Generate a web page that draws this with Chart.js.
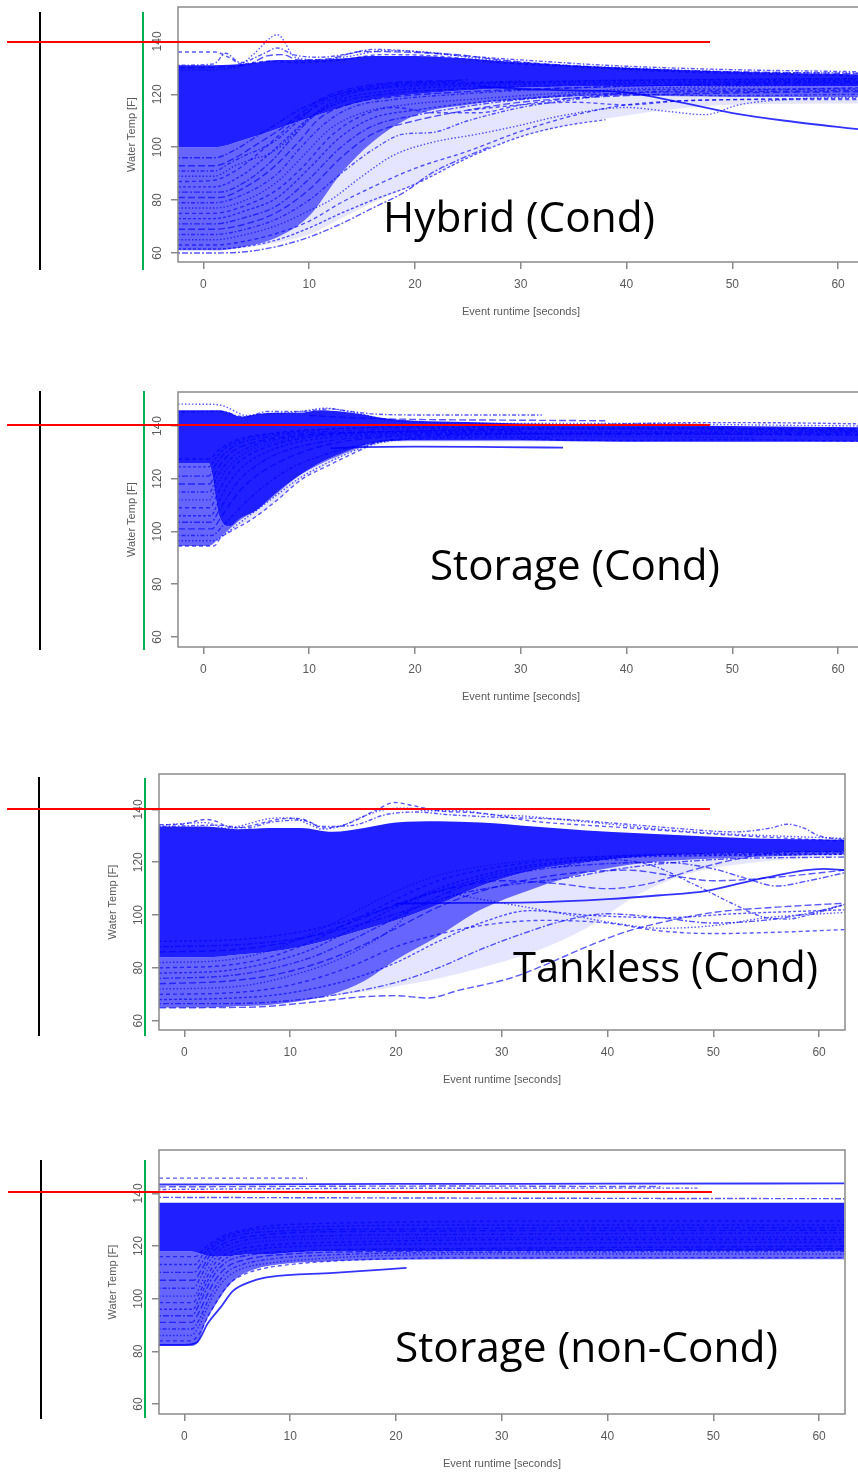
<!DOCTYPE html>
<html>
<head>
<meta charset="utf-8">
<script src="https://cdn.jsdelivr.net/npm/chart.js@4.4.1/dist/chart.umd.min.js"></script>
<style>
html, body { margin: 0; padding: 0; background: #fff; width: 858px; height: 1479px; overflow: hidden; }
canvas { position: absolute; left: 0; }
.mark { position: absolute; z-index: 2; }
.big { position: absolute; z-index: 3; font-family: "Open Sans"; font-size: 42px; line-height: 1; color: #000; white-space: nowrap; transform-origin: 0 0; }
</style>
</head>
<body>
<canvas id="c1"></canvas>
<canvas id="c2"></canvas>
<canvas id="c3"></canvas>
<canvas id="c4"></canvas>

<div class="big" id="t1" style="left:383px;top:195px">Hybrid (Cond)</div>
<div class="big" id="t2" style="left:430px;top:543px">Storage (Cond)</div>
<div class="big" id="t3" style="left:513px;top:945px">Tankless (Cond)</div>
<div class="big" id="t4" style="left:395px;top:1325px">Storage (non-Cond)</div>

<script>
// ---- shared axis values ----
const xTicks = [0, 10, 20, 30, 40, 50, 60];
const yTicks = [60, 80, 100, 120, 140];
const xTitle = 'Event runtime [seconds]';
const yTitle = 'Water Temp [F]';

// ---- Hybrid (Cond) ----
// envelopes of the dense, medium and sparse parts of the bundle
const hybridGrid      = [-2.4, 1, 4, 7, 10, 13, 16, 20, 25, 30, 40, 50, 62.4];
const hybridCoreTop   = [131, 131, 131.5, 133, 133, 133.5, 134.5, 134.5, 133.5, 132, 130, 128.5, 127.5];
const hybridCoreLow   = [100, 100, 103, 107, 111, 115, 118, 120, 121.5, 122.5, 123, 123, 123];
const hybridMidLow    = [61, 61, 62.5, 66, 74, 90, 102, 112, 116, 118, 119.5, 119, 119];
const hybridSparseLow = [61, 61, 62, 64, 67, 73, 79, 86, 96, 104, 112, 116, 116.5];
const hybridCurves = [
    [[-2.4,136],[1.1,136],[2.4,134],[3.6,131.5],[6,132.5],[9,132],[13,133],[17,135],[22,134.5],[28,132],[35,130.5],[45,128.5],[55,127.5],[62.4,127]],
    [[-2.4,129],[3,130],[4.7,135],[7,142.5],[8.7,134],[11,133],[14,134.5],[17,136.5],[21,136],[26,133.5],[32,131.5],[40,130],[50,128.5],[62.4,128]],
    [[-2.4,131],[1,131.5],[2.1,135.5],[3.5,132],[5.5,135],[7,137.5],[8.5,135],[11,134],[14,135.5],[16,137],[19,136.5],[23,135],[30,133],[38,131],[48,129.5],[62.4,128.5]],
    [[-2.4,130],[4,131],[6,134.5],[7.5,135],[9,133],[12,133.5],[15,136.2],[20,135.8],[24,135],[28,133],[34,131],[45,129],[62.4,127.8]],
    [[-2.4,60],[1,60],[4,60.5],[7,62.5],[10,66],[13,71],[16,77],[19,83],[21.5,90],[24,95],[27,100]],
    [[-2.4,61.5],[1,61.5],[4,62.5],[7,65],[10,69.5],[13,75],[16,80],[20,86],[25,96],[30,104],[34,108],[38,110.4]],
    [[-2.4,63],[1,63],[4,64.5],[7,67.5],[10,72],[13,79],[16,85],[20,92],[25,98.5],[30,106],[35,112],[40,116],[50,118],[62.4,118.5]],
    [[-2.4,65],[1,65],[4,67],[7,70.5],[10,76],[12,80],[15,89],[18,97],[21.5,101.7],[26,105],[29.4,107.8],[34,112],[40,115],[44,113.5],[47.4,112.3],[50.6,116],[55,118],[62.4,119]],
    [[-2.4,67],[1,67],[4,69],[7,73],[10,80],[13,90],[16,99],[19,105],[21.5,105.5],[25,110],[30,115],[35,118],[40,120],[50,119.5],[62.4,120]],
    [[-2.4,69],[1,69],[4,71],[7,75.5],[10,84],[13,96],[16,105],[20,110],[25,114],[30,117],[40,119.5],[50,120.5],[62.4,121]],
    [[-2.4,71],[1,71],[4,73.5],[7,78],[10,88],[13,100],[16,108],[20,112],[25,115.5],[30,118],[40,120.5],[50,121],[62.4,121.5]],
    [[-2.4,73],[1,73],[4,76],[7,81],[10,92],[13,104],[16,111],[20,114],[26,117],[32,119],[40,121.5],[50,122],[62.4,122]],
    [[-2.4,75],[1,75],[4,78],[7,84],[9.5,93],[12,104],[15,112],[18,115],[22,113],[26,113],[30,116],[36,119],[42,121],[50,121.5],[62.4,122.5]],
    [[-2.4,77],[1,77],[4,80],[7,87],[9.5,97],[12,107],[15,113],[19,116],[25,118],[32,120],[40,122],[50,123],[62.4,123.5]],
    [[-2.4,79],[1,79],[4,82.5],[7,90],[9,99],[11.5,109],[14,115],[18,118],[24,120],[30,121.5],[40,123],[62.4,124]],
    [[-2.4,81],[1.5,81],[4,85],[6.5,92],[9,102],[11,111],[14,116.5],[18,119],[25,121],[35,122.5],[50,124],[62.4,124.5]],
    [[-2.4,83],[1.5,83],[4,87],[6.5,95],[8.5,104],[10.5,112],[13,117],[17,120],[24,122],[34,123.5],[62.4,125]],
    [[-2.4,85],[1,85],[3.5,89],[5.5,95],[7.5,102],[10,111],[13,118],[17,121],[24,123],[62.4,125.5]],
    [[-2.4,87],[1,87.5],[3,91],[5,97],[7,104],[9,111],[12,118],[16,122],[25,124],[62.4,126]],
    [[-2.4,89],[1,89],[3,93],[5,96],[6,97],[7.5,101],[9.5,109],[12,117],[16,122],[62.4,126]],
    [[-2.4,91],[1,91],[2.5,94],[4,97],[5.5,99.5],[7,103],[9,110],[11,117],[15,122],[30,125]],
    [[-2.4,93],[1,93],[3,96],[5,101],[7,106],[9,112],[11,118],[15,123],[25,125.5]],
    [[-2.4,96],[1,96],[3,99],[5,104],[7,109],[9,114],[12,119],[16,123],[24,125]],
    [[26,123],[30,122],[35,121.5],[40,120.7],[45,117],[49.9,113],[55,110],[62.4,106.6]],
    [[25,114],[30,116],[35,117],[40,116],[45,117.5],[50,118],[62.4,118]]
];

// ---- Storage (Cond) ----
const storageGrid      = [-2.4, 0.5, 1.5, 2.5, 3.5, 5, 7, 9, 11, 13, 15, 17, 20, 25, 30, 40, 50, 62.4];
const storageCoreTop   = [146, 146, 146, 145, 143.5, 144.5, 145, 145, 146, 145.5, 144.5, 143, 142, 141.5, 141, 140.5, 140, 139.5];
const storageCoreLow   = [126, 126, 106, 102, 105, 108, 115, 121, 126, 129.5, 132.5, 134, 134.5, 134.5, 134.5, 134, 134, 134];
const storageMidLow    = [94.5, 94.5, 97.5, 101, 104.5, 108, 114.5, 121, 125.5, 129, 132, 134, 134.5, 134.5, 134.5, 134, 134, 134];
const storageSparseLow = [94.5, 94.5, 97, 99.5, 102.5, 105.5, 112, 119, 124, 128, 131, 133.5, 134, 134, 134, 134, 134, 134];
const storageCurves = [
    [[-2.4,94.5],[1,94.5],[1.6,97.5],[3,101],[4.5,104.4],[7,112],[9.2,119.5],[12.3,126],[14.9,131],[16.5,134],[20,135],[26,135.5],[33,135.5]],
    [[-2.4,96.5],[1,96.5],[2,99],[3.5,103.5],[5,108],[7,114],[9,120],[11,124.5],[13,128.5],[15.5,132.5],[19,135],[25,136],[40,136],[52,135.5]],
    [[-2.4,98.5],[0.8,98.5],[1.8,102],[3,107],[4.5,113],[6.5,119.5],[8.5,124.5],[11,128.5],[14,132],[18,135],[25,136.5],[40,137],[62.4,136.5]],
    [[-2.4,101],[0.8,101],[1.6,105],[2.6,111],[3.8,117],[5.5,122.5],[7.5,127],[10,131],[13,134],[18,136],[30,137],[62.4,137]],
    [[-2.4,103.5],[0.7,103.5],[1.5,108],[2.4,114],[3.5,120],[5,125],[7,129.5],[10,133],[14,135.5],[22,137],[62.4,137.5]],
    [[-2.4,106],[0.7,106],[1.4,111],[2.2,117],[3.2,122.5],[4.5,127],[6.5,131],[9,134],[13,136],[22,137.5],[62.4,138]],
    [[-2.4,109],[0.6,109],[1.3,114],[2.1,120],[3,125],[4.3,129],[6,132],[9,135],[14,137],[30,138]],
    [[-2.4,112],[0.6,112],[1.2,117],[2,122.5],[3,127],[4.5,131],[7,134],[11,136.5],[20,138],[40,138.5],[62.4,138]],
    [[-2.4,115],[0.6,115],[1.2,120],[2,125],[3,129],[5,133],[8,135.5],[14,137.5],[30,138.5]],
    [[-2.4,118],[0.6,118],[1.1,122],[1.9,127],[3,131],[5,134],[9,136.5],[18,138],[40,139],[62.4,138.5]],
    [[-2.4,121],[0.5,121],[1.1,125],[2,129.5],[3.2,133],[5.5,135.5],[10,137.5],[25,139],[62.4,139]],
    [[-2.4,124.5],[0.5,124.5],[1.2,128],[2.2,132],[4,135],[8,137.5],[20,139.5],[50,139.5]],
    [[-2.4,127.5],[0.5,127.5],[1.5,131],[3,134.5],[6,137],[12,139],[30,140]],
    [[-2.4,148.3],[1,148.2],[2,147.5],[3,145.5],[4,144],[5.5,144.5],[8,145],[10,146],[11.5,146.8],[13,146],[15,144.5],[17,142.5],[20,141.5],[30,141],[40,141],[50,140.5],[62.4,140]],
    [[-2.4,145.4],[2,145.5],[3,144],[4,143.5],[6,145.5],[9,145.5],[12,146.5],[14,145.5],[16,144.6],[20,144.2],[32,144.2]],
    [[10,144],[15,143],[20,142.5],[30,142.2],[38,142]],
    [[12,131.5],[15,132],[20,132.2],[28,132],[34,131.8]],
    [[25,140],[35,140.5],[48,141.3],[55,141.2],[62.4,140.8]],
    [[30,135],[40,134.5],[50,134.8],[62.4,134.2]]
];

// ---- Tankless (Cond) ----
const tanklessGrid      = [-2.4, 2, 5, 8, 11, 14, 17, 20, 24, 28, 33, 38, 43, 48, 54, 62.4];
const tanklessCoreTop   = [133.5, 133.5, 132.5, 133, 133, 131.5, 133, 135, 135.5, 135, 133.5, 132, 131, 130, 129, 128.5];
const tanklessCoreLow   = [84, 84, 85, 86, 88, 91, 94.5, 98, 104, 111, 117, 120, 122, 123, 123.5, 124];
const tanklessMidLow    = [65, 65, 65.5, 66, 67.5, 70, 75, 83, 92, 102, 110, 116, 119.5, 121, 122, 123];
const tanklessSparseLow = [65, 65, 65.5, 66, 67.5, 69.5, 71, 73, 76, 80, 86, 95, 108, 116, 120, 122.5];
const tanklessCurves = [
    [[-2.4,134.2],[0,134.5],[1,135.5],[2,136.2],[3,135.5],[4,133.5],[5,133],[6.5,134],[8,135.5],[9.5,136.5],[10.7,136.6],[12,135],[13,133],[14.5,133.5],[16,135.5],[18,139.5],[19.9,142.6],[21.5,141.5],[24,139.5],[28.3,138.5],[33,135.5],[38,134],[42.4,132.9],[48.8,131],[55,129.5],[62.4,128]],
    [[-2.4,134],[2,135],[4,132.8],[6,134.5],[8,136.5],[10,136.8],[12,134],[13,132.5],[15,134],[17,137.5],[19,140],[21,140.5],[23,139.5],[26,139.5],[29,138],[32,137.5],[36,136],[40,134.5],[45,132.5],[50,131],[62.4,129]],
    [[-2.4,133.5],[3,134],[6,133],[8,135],[11,136],[13,133.5],[16,134],[19,138],[22,139],[25,138],[30,137],[36,136.2],[40,135],[46,133],[52,131.5],[55.5,133],[57,134.4],[58.5,133],[60,130],[62.4,128.5]],
    [[-2.4,64.9],[3,65],[7.2,65.3],[12,67],[16.6,69],[20,69.5],[23,68.6],[26,71.6],[30.8,76.1],[34,81],[38,88],[42,94],[46,98],[50,101],[56,103],[62.4,104.5]],
    [[-2.4,66.5],[4,66.5],[8,67],[12,68.5],[16,71],[20,74.5],[24,80],[28,87],[32,93],[36,98],[40,100.5],[45,99],[50,97],[54.7,98],[58.9,100.6],[62.4,104]],
    [[-2.4,68],[4,68.5],[8,69.5],[12,72],[16,76],[20,82],[24,90],[28,97],[32.7,101.7],[38,100],[45.3,99],[52,100.5],[62.4,102]],
    [[-2.4,70],[4,70.5],[8,72],[12,75.5],[16,81],[20,88],[23.3,92],[28,96],[34,98],[40,97],[45,94],[50,93],[56,93.5],[62.4,94.5]],
    [[-2.4,72],[5,73],[10,77],[15,84],[20,96],[23.3,109],[28,106],[35.8,100.5],[40.9,96.8],[45,95],[50,96],[55,99],[62.4,101]],
    [[20,104.3],[23,104.5],[33,104.8],[40,106],[45,107.5],[49.4,109.2],[54.7,114],[60.4,117.5],[62.4,117]],
    [[-2.4,74],[4,75],[8,77],[12,81],[16,87],[20,95],[24,103],[28,109],[32,113],[37,116],[42,117],[46,115],[50,113],[55,114],[62.4,117]],
    [[-2.4,76],[4,77],[8,79.5],[12,84],[16,91],[20,99],[24,107],[28,113],[33,117],[38,119],[45,120],[50,117.5],[53,114],[56,111],[59,113],[62.4,116]],
    [[-2.4,78],[4,79],[8,82],[12,87],[16,95],[20,103],[24,110],[28,115],[33,119],[40,121.5],[50,122.5],[62.4,123]],
    [[-2.4,80],[4,81],[8,84],[12,90],[16,98],[20,106],[24,113],[28,117],[34,120.5],[42,122.5],[62.4,123.5]],
    [[-2.4,82],[4,83],[8,86.5],[12,93],[16,101],[20,109],[24,115],[30,119.5],[38,122],[62.4,124]],
    [[35,118],[40,121],[44,119],[48,112],[52,104],[55,99],[57,98.5],[59,100],[62.4,104]],
    [[-2.4,86],[5,87],[10,90],[15,96],[20,104],[25,110],[30,113],[35,112],[40,110],[44,112],[48,117],[52,121],[57,124],[62.4,124]],
    [[-2.4,88],[6,89],[12,92],[18,98],[22,103],[26,108],[30,111],[36,114],[42,118],[50,121],[62.4,122]],
    [[-2.4,90],[6,91],[12,94.5],[18,101],[24,109],[30,116],[36,120],[44,122.5],[62.4,123]]
];

// ---- Storage (non-Cond) ----
const nonCondGrid      = [-2.4, 0.5, 1.2, 2, 3, 4, 5, 6.5, 8, 10, 13, 16, 20, 30, 40, 50, 62.4];
const nonCondCoreTop   = [136.5, 136.5, 136.5, 136.5, 136.5, 136.5, 136.5, 136.5, 136.5, 136.5, 136.5, 136.5, 136.5, 136.5, 136.5, 136.5, 136.5];
const nonCondCoreLow   = [118, 118, 117.5, 116.5, 116, 116, 116.5, 117, 117, 117.5, 118, 118, 118, 118, 118, 118, 118];
const nonCondMidLow    = [82, 82, 83, 91, 98, 104, 108, 111, 112.5, 113.5, 114, 114.5, 114.8, 115, 115, 115, 115];
const nonCondSparseLow = [82, 82, 83, 91, 98, 104, 108, 111, 112.5, 113.5, 114, 114.5, 114.8, 115, 115, 115, 115];
const nonCondCurves = [
    [[-2.4,145.8],[11.6,145.8]],
    [[-2.4,143.4],[20,143.6],[40,143.7],[62.4,143.8]],
    [[-2.4,141.5],[10,141.8],[30,142],[48.5,142]],
    [[-2.4,142.5],[25,142.8],[45,142.6]],
    [[-2.4,138.5],[30,138.2],[62.4,138]],
    [[-2.4,82.5],[0,82.5],[1.2,83.5],[2.2,90.6],[3.4,96.6],[4.6,103],[6.5,106.8],[8.1,108.3],[14.1,109.8],[21,111.7]],
    [[-2.4,84],[0.5,84],[1.3,86],[2.2,93],[3.2,100],[4.2,105.5],[5.5,109],[7.5,111.5],[10,113],[15,114.5],[25,115.5],[40,115.6],[62.4,115.6]],
    [[-2.4,86],[0.6,86],[1.3,89],[2.1,96],[3,103],[4,108],[5.5,111.5],[8,113.5],[12,115],[20,116.5],[35,117],[62.4,117]],
    [[-2.4,88.5],[0.7,88.5],[1.4,92],[2.2,99],[3,105],[4,110],[5.5,113],[8,115],[13,116.5],[25,117.5],[62.4,118]],
    [[-2.4,91],[0.7,91],[1.4,95],[2.1,101],[2.9,107],[4,112],[6,115],[10,117],[20,118],[40,118.5],[62.4,119]],
    [[-2.4,93.5],[0.7,93.5],[1.3,97],[2,103],[2.8,109],[4,114],[6,116.5],[10,118],[25,119],[62.4,120]],
    [[-2.4,96],[0.8,96],[1.4,100],[2.1,106],[3,112],[4.2,116],[6.5,118.5],[12,120],[30,121],[62.4,121.5]],
    [[-2.4,98.5],[0.8,98.5],[1.4,102],[2.1,108],[3,114],[4.5,118],[7,120],[15,121.5],[40,122.5],[62.4,122.5]],
    [[-2.4,101],[0.9,101],[1.5,105],[2.2,111],[3.2,116.5],[5,120],[8,122],[20,123],[62.4,123.5]],
    [[-2.4,104],[0.9,104],[1.5,108],[2.3,114],[3.5,119],[5.5,122],[10,123.5],[30,124.5],[62.4,125]],
    [[-2.4,107],[0.9,107],[1.6,111],[2.5,117],[4,121.5],[7,124],[15,125.5],[62.4,126]],
    [[-2.4,110],[0.9,110],[1.7,114],[2.7,119.5],[4.5,123.5],[8,125.5],[20,126.5],[62.4,127]],
    [[-2.4,113],[1,113],[1.8,117],[3,121.5],[5,125],[10,127],[30,128],[62.4,128]],
    [[-2.4,116],[1,116],[2,119.5],[3.5,123.5],[6,126.5],[12,128.5],[40,129.5],[62.4,129.5]]
];

// ---- layout of the four panels (pixels of the page) ----
const X_MIN = -2.4, X_MAX = 62.45;
const CANVAS_W = 870, Y_AXIS_W = 50, X_AXIS_H = 66, PAD_TOP = 6;
const panels = [
    { id: 'c1', left: 178, top: 7,    bottom: 262,  right: 864, yMin: 56.6, yMax: 153.0, strong: [23],
      grid: hybridGrid, top_: hybridCoreTop, core: hybridCoreLow, mid: hybridMidLow, sparse: hybridSparseLow, curves: hybridCurves },
    { id: 'c2', left: 178, top: 392,  bottom: 647,  right: 864, yMin: 56.2, yMax: 152.9, strong: [16],
      grid: storageGrid, top_: storageCoreTop, core: storageCoreLow, mid: storageMidLow, sparse: storageSparseLow, curves: storageCurves },
    { id: 'c3', left: 159, top: 774,  bottom: 1030, right: 845, yMin: 56.5, yMax: 153.4, strong: [8],
      grid: tanklessGrid, top_: tanklessCoreTop, core: tanklessCoreLow, mid: tanklessMidLow, sparse: tanklessSparseLow, curves: tanklessCurves },
    { id: 'c4', left: 159, top: 1150, bottom: 1414, right: 845, yMin: 56.2, yMax: 156.5, strong: [1, 5],
      grid: nonCondGrid, top_: nonCondCoreTop, core: nonCondCoreLow, mid: nonCondMidLow, sparse: nonCondSparseLow, curves: nonCondCurves }
];

const CORE_FILL = 'rgba(0, 0, 255, 0.88)';
const MID_FILL = 'rgba(0, 0, 255, 0.6)';
const SPARSE_FILL = 'rgba(0, 0, 255, 0.1)';
const LINE_COLOR = 'rgba(0, 0, 255, 0.65)';
const dashes = [[4, 3], [1.5, 2], [1.5, 2, 4, 2], [7, 3], [2, 2, 6, 2], [3, 2]];
const AXIS_GREY = '#8a8a8a';
const TEXT_GREY = '#5a5a5a';

Chart.defaults.font.family = 'Liberation Sans';

// R-style frame, rotated y labels and axis titles
const rFrame = {
    id: 'rFrame',
    afterDatasetsDraw(chart) {
        const { ctx, chartArea: a, scales: { y } } = chart;
        ctx.save();
        ctx.strokeStyle = AXIS_GREY;
        ctx.lineWidth = 1.5;
        ctx.strokeRect(a.left, a.top, a.right - a.left, a.bottom - a.top);

        ctx.fillStyle = TEXT_GREY;
        ctx.textAlign = 'center';
        ctx.textBaseline = 'middle';
        ctx.font = '12px "Liberation Sans"';
        y.ticks.forEach(t => {
            ctx.save();
            ctx.translate(a.left - 20, y.getPixelForValue(t.value));
            ctx.rotate(-Math.PI / 2);
            ctx.fillText(String(t.value), 0, 0);
            ctx.restore();
        });

        ctx.font = '11px "Liberation Sans"';
        ctx.save();
        ctx.translate(a.left - 46, (a.top + a.bottom) / 2);
        ctx.rotate(-Math.PI / 2);
        ctx.fillText(yTitle, 0, 0);
        ctx.restore();

        ctx.fillText(xTitle, (a.left + a.right) / 2, a.bottom + 50);
        ctx.restore();
    }
};

// stacked envelopes, each filled down from the one above it
function bandSets(p) {
    const pts = arr => p.grid.map((x, i) => ({ x: x, y: arr[i] }));
    const base = { borderWidth: 0, pointRadius: 0, cubicInterpolationMode: 'monotone', order: 3 };
    return [
        Object.assign({ data: pts(p.top_), fill: false }, base),
        Object.assign({ data: pts(p.core), fill: '-1', backgroundColor: CORE_FILL }, base),
        Object.assign({ data: pts(p.mid), fill: '-1', backgroundColor: MID_FILL }, base),
        Object.assign({ data: pts(p.sparse), fill: '-1', backgroundColor: SPARSE_FILL }, base)
    ];
}

function curveSets(p) {
    return p.curves.map((c, i) => {
        const strong = p.strong.includes(i);
        return {
            data: c,
            borderColor: strong ? 'rgba(0, 0, 255, 0.8)' : LINE_COLOR,
            borderWidth: strong ? 1.8 : 1.4,
            borderDash: strong ? [] : dashes[i % dashes.length],
            pointRadius: 0,
            fill: false,
            cubicInterpolationMode: 'monotone',
            order: 1
        };
    });
}

panels.forEach(p => {
    const canvas = document.getElementById(p.id);
    const h = (p.bottom - p.top) + PAD_TOP + X_AXIS_H;
    canvas.width = CANVAS_W;
    canvas.height = h;
    canvas.style.top = (p.top - PAD_TOP) + 'px';

    new Chart(canvas, {
        type: 'line',
        data: { datasets: bandSets(p).concat(curveSets(p)) },
        options: {
            responsive: false,
            animation: false,
            events: [],
            layout: { padding: { top: PAD_TOP, left: p.left - Y_AXIS_W, right: CANVAS_W - p.right, bottom: 0 } },
            plugins: { legend: { display: false }, tooltip: { enabled: false } },
            scales: {
                x: {
                    type: 'linear',
                    min: X_MIN,
                    max: X_MAX,
                    afterBuildTicks: s => { s.ticks = xTicks.map(v => ({ value: v })); },
                    afterFit: s => { s.height = X_AXIS_H; },
                    grid: { drawOnChartArea: false, drawTicks: true, tickLength: 7, color: AXIS_GREY, lineWidth: 1.5 },
                    border: { display: false },
                    ticks: { color: TEXT_GREY, font: { size: 12 }, padding: 8, maxRotation: 0, autoSkip: false }
                },
                y: {
                    type: 'linear',
                    min: p.yMin,
                    max: p.yMax,
                    afterBuildTicks: s => { s.ticks = yTicks.map(v => ({ value: v })); },
                    afterFit: s => { s.width = Y_AXIS_W; },
                    grid: { drawOnChartArea: false, drawTicks: true, tickLength: 7, color: AXIS_GREY, lineWidth: 1.5 },
                    border: { display: false },
                    ticks: { display: false }
                }
            }
        },
        plugins: [rFrame]
    });
});

// overlay guide lines (black, green, red at 140 F)
const guides = [
    { x: 39, y: 12, w: 2, h: 258, c: '#000' }, { x: 142, y: 12, w: 2, h: 258, c: '#00b050' }, { x: 7, y: 41, w: 703, h: 2, c: '#ff0000' },
    { x: 39, y: 391, w: 2, h: 259, c: '#000' }, { x: 143, y: 391, w: 2, h: 259, c: '#00b050' }, { x: 7, y: 424, w: 703, h: 2, c: '#ff0000' },
    { x: 38, y: 777, w: 2, h: 259, c: '#000' }, { x: 144, y: 778, w: 2, h: 258, c: '#00b050' }, { x: 7, y: 808, w: 703, h: 2, c: '#ff0000' },
    { x: 40, y: 1160, w: 2, h: 259, c: '#000' }, { x: 144, y: 1160, w: 2, h: 258, c: '#00b050' }, { x: 8, y: 1191, w: 704, h: 2, c: '#ff0000' }
];
guides.forEach(g => {
    const d = document.createElement('div');
    d.className = 'mark';
    d.style.cssText = `left:${g.x}px;top:${g.y}px;width:${g.w}px;height:${g.h}px;background:${g.c}`;
    document.body.appendChild(d);
});

// fit the large labels to the widths seen in the reference
const labelWidths = { t1: 272, t2: 290, t3: 305, t4: 383 };
Object.keys(labelWidths).forEach(id => {
    const el = document.getElementById(id);
    const w = el.getBoundingClientRect().width;
    el.style.transform = `scaleX(${labelWidths[id] / w})`;
});
</script>
</body>
</html>
